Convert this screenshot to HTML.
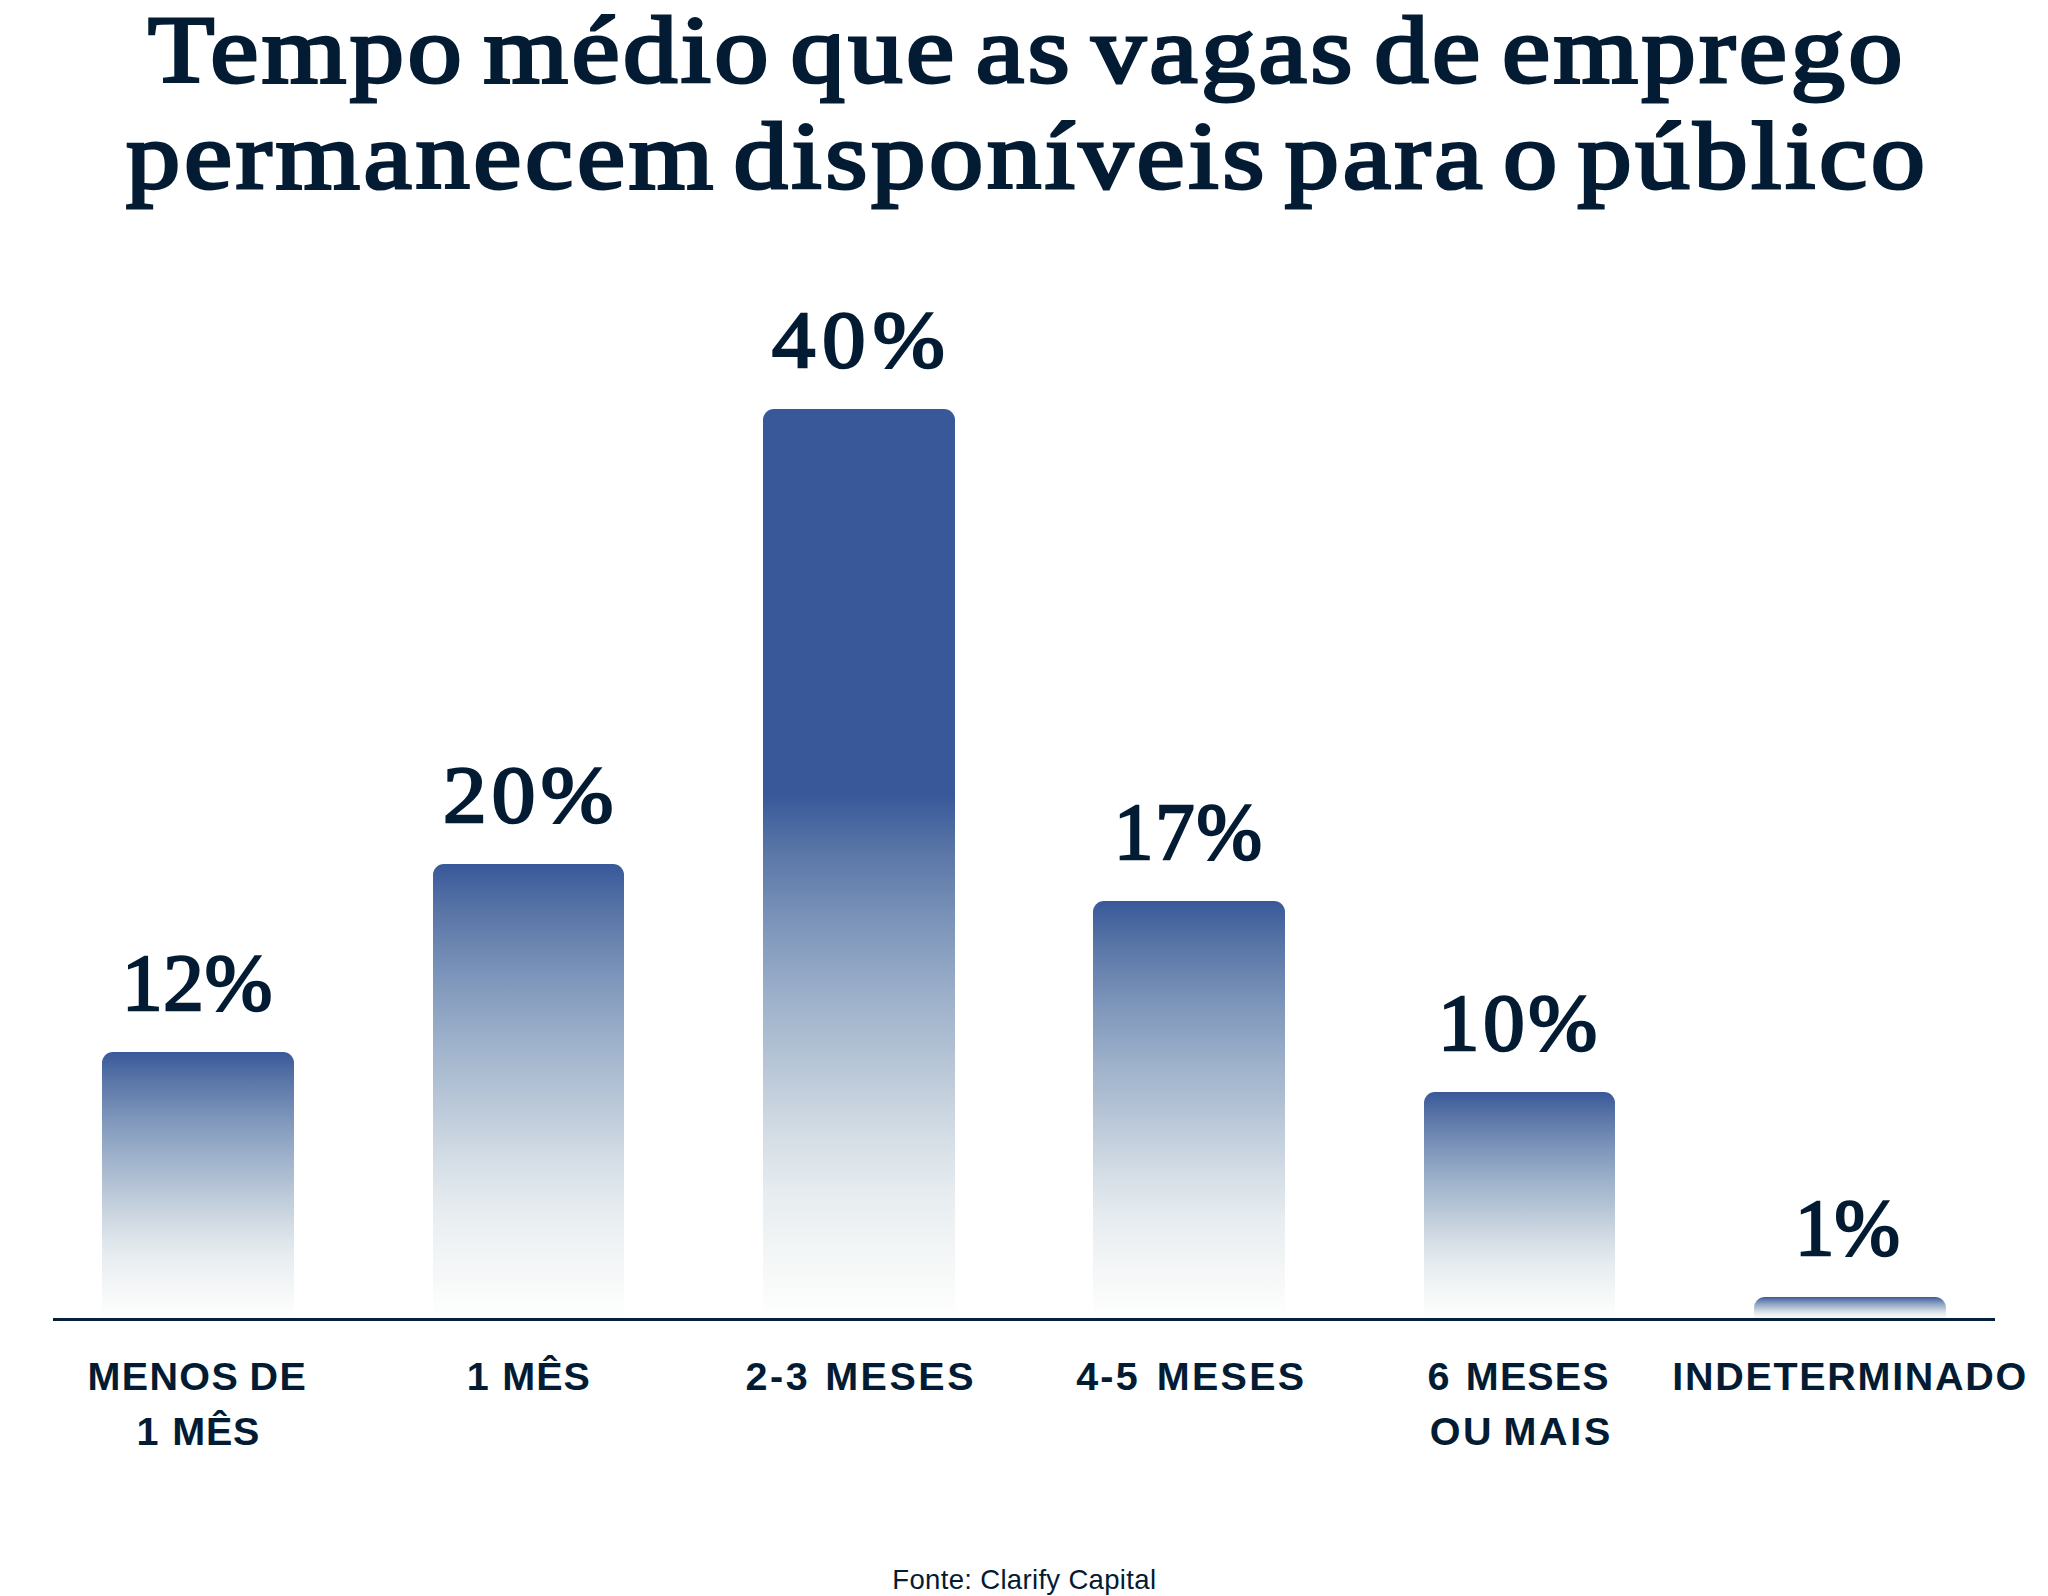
<!DOCTYPE html>
<html lang="pt-BR">
<head>
<meta charset="utf-8">
<meta name="viewport" content="width=2048">
<title>Tempo médio que as vagas de emprego permanecem disponíveis para o público</title>
<style>
*{box-sizing:border-box;margin:0;padding:0}
html,body{width:2048px;height:1596px;background:#fff}
body{position:relative;color:#031c33;font-family:"Liberation Sans",sans-serif}
h1,p,ul,li{font:inherit;list-style:none}
.t{position:absolute;display:block;white-space:nowrap;line-height:1;transform-origin:0 0}
.title{font-family:"Liberation Serif",serif;font-weight:400;font-size:96px;-webkit-text-stroke:3px #031c33}
.val{font-family:"Liberation Serif",serif;font-weight:400;font-size:79.5px;-webkit-text-stroke:2.5px #031c33}
.cat{font-family:"Liberation Sans",sans-serif;font-weight:700;font-size:39.5px}
.src{font-family:"Liberation Sans",sans-serif;font-weight:400;font-size:27.5px}
.bar{position:absolute;border-radius:11px 11px 0 0;background:linear-gradient(to bottom,#38589a 0%,#5874a6 10%,#7e96bb 25%,#a0b3cc 40%,#b4c3d5 50%,#d4dde5 65%,#e5ebef 75%,#f1f4f5 85%,#fafbfb 95%,#ffffff 100%)}
.axis{position:absolute;left:53px;top:1318px;width:1942px;height:3px;background:#04203a}
</style>
</head>
<body>
<h1>
<span class="t title" id="t1" style="left:148.32px;top:1.9px;letter-spacing:3.05px;word-spacing:-10.83px;transform:scaleX(1.1308)">Tempo médio que as vagas de emprego</span>
<span class="t title" id="t2" style="left:126.49px;top:108.3px;letter-spacing:3.25px;word-spacing:-12.42px;transform:scaleX(1.1299)">permanecem disponíveis para o público</span>
</h1>

<div class="plot">
<div class="bar" id="b1" style="left:102.3px;top:1052px;width:191.8px;height:267px"></div>
<div class="bar" id="b2" style="left:432.6px;top:864.2px;width:191.8px;height:454.8px"></div>
<div class="bar" id="b3" style="left:762.9px;top:409px;width:191.8px;height:910px;background:linear-gradient(to bottom,#38589a 0%,#38589a 42.4%,#5874a6 48.2%,#7e96bb 56.8%,#a0b3cc 65.4%,#b4c3d5 71.2%,#d4dde5 79.8%,#e5ebef 85.6%,#f1f4f5 91.4%,#fafbfb 97.1%,#ffffff 100%)"></div>
<div class="bar" id="b4" style="left:1093.2px;top:901px;width:191.8px;height:418px"></div>
<div class="bar" id="b5" style="left:1423.5px;top:1092px;width:191.8px;height:227px"></div>
<div class="bar" id="b6" style="left:1753.8px;top:1296.6px;width:191.8px;height:22.4px"></div>
<div class="axis"></div>
</div>

<ul class="values">
<li><span class="t val" id="v1" style="left:121.79px;top:944.17px;letter-spacing:0.76px;transform:scaleX(1.02)">12%</span></li>
<li><span class="t val" id="v2" style="left:442.56px;top:756.47px;letter-spacing:4.81px;transform:scaleX(1.0964)">20%</span></li>
<li><span class="t val" id="v3" style="left:772.15px;top:301.27px;letter-spacing:6.54px;transform:scaleX(1.0869)">40%</span></li>
<li><span class="t val" id="v4" style="left:1113.65px;top:793.17px;letter-spacing:1.95px;transform:scaleX(0.9887)">17%</span></li>
<li><span class="t val" id="v5" style="left:1438.39px;top:984.17px;letter-spacing:3.7px;transform:scaleX(1.0396)">10%</span></li>
<li><span class="t val" id="v6" style="left:1795.44px;top:1188.87px;letter-spacing:0.27px;transform:scaleX(0.987)">1%</span></li>
</ul>

<ul class="categories">
<li><span class="t cat" id="c1a" style="left:87.61px;top:1357.06px;letter-spacing:1.33px;word-spacing:-1.87px">MENOS DE</span> <span class="t cat" id="c1b" style="left:136.54px;top:1412.26px;letter-spacing:0.73px;word-spacing:1.38px">1 MÊS</span></li>
<li><span class="t cat" id="c2" style="left:466.84px;top:1357.06px;letter-spacing:1.01px;word-spacing:0.45px">1 MÊS</span></li>
<li><span class="t cat" id="c3" style="left:745.54px;top:1357.06px;letter-spacing:2.52px;word-spacing:1.51px">2-3 MESES</span></li>
<li><span class="t cat" id="c4" style="left:1076.13px;top:1357.06px;letter-spacing:2.27px;word-spacing:3.55px">4-5 MESES</span></li>
<li><span class="t cat" id="c5a" style="left:1427.52px;top:1357.06px;letter-spacing:1.13px;word-spacing:3.13px">6 MESES</span> <span class="t cat" id="c5b" style="left:1429.67px;top:1412.26px;letter-spacing:2.73px;word-spacing:-4.61px">OU MAIS</span></li>
<li><span class="t cat" id="c6" style="left:1672.35px;top:1357.06px;letter-spacing:1.69px">INDETERMINADO</span></li>
</ul>

<footer><p class="t src" id="s1" style="left:892.3px;top:1565.92px;letter-spacing:0.33px">Fonte: Clarify Capital</p></footer>
</body>
</html>
